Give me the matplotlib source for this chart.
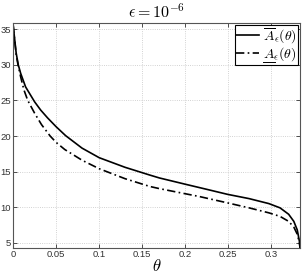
import numpy as np
import matplotlib
matplotlib.use('Agg')
import matplotlib.pyplot as plt
from matplotlib.lines import Line2D

# values
theta_upper = [0.0, 0.001, 0.002, 0.0035, 0.006, 0.0088, 0.0145, 0.020, 0.025, 0.032,
               0.040, 0.050, 0.061, 0.080, 0.100, 0.130, 0.159, 0.170, 0.199, 0.225,
               0.249, 0.274, 0.297, 0.310, 0.320, 0.326, 0.330, 0.3325, 0.3333]
a_upper = [35.7, 34.5, 33.4, 31.7, 30.0, 28.8, 26.9, 25.8, 24.8, 23.65,
           22.55, 21.3, 20.05, 18.3, 16.95, 15.6, 14.5, 14.1, 13.25, 12.5,
           11.8, 11.2, 10.5, 9.9, 9.0, 8.0, 6.8, 5.2, 4.2]

theta_lower = [0.0, 0.001, 0.002, 0.0035, 0.0057, 0.0088, 0.0125, 0.017, 0.025, 0.033,
               0.043, 0.050, 0.060, 0.080, 0.100, 0.130, 0.159, 0.170, 0.216, 0.249,
               0.274, 0.297, 0.310, 0.320, 0.326, 0.330, 0.3325, 0.3333]
a_lower = [35.6, 34.4, 33.2, 31.5, 30.0, 28.3, 26.5, 25.0, 23.2, 21.6,
           20.0, 19.1, 18.1, 16.6, 15.4, 14.0, 12.9, 12.6, 11.5, 10.6,
           9.9, 9.2, 8.7, 8.0, 7.2, 6.2, 5.0, 4.2]

xticks = [0, 0.05, 0.1, 0.15, 0.2, 0.25, 0.3]
xticklabels = ['0', '0.05', '0.1', '0.15', '0.2', '0.25', '0.3']
yticks = [5, 10, 15, 20, 25, 30, 35]

plt.rcParams['mathtext.fontset'] = 'cm'
plt.rcParams['font.family'] = ['Liberation Sans', 'DejaVu Sans']

fig = plt.figure(figsize=(3.05, 2.76), dpi=100)
ax = fig.add_axes([0.043, 0.1, 0.941, 0.817])

ax.plot(theta_upper, a_upper, color='black', lw=1.2, ls='-',
        label=r'$\overline{A}_\epsilon(\theta)$')
ax.plot(theta_lower, a_lower, color='black', lw=1.2, ls=(0, (5, 2, 1, 2)),
        label=r'$A_\epsilon(\theta)$')

ax.set_xlim(0, 1 / 3)
ax.set_ylim(4.2, 35.9)
ax.set_xticks(xticks)
ax.set_xticklabels(xticklabels)
ax.set_yticks(yticks)
ax.tick_params(direction='in', top=True, right=True, labelsize=6.8,
               length=3, width=0.6, colors='#333333', pad=1.5)
for s in ax.spines.values():
    s.set_color('#555555')
    s.set_linewidth(0.8)
ax.grid(True, ls=':', color='#c4c4c4', lw=0.6)

ax.set_title(r'$\epsilon = 10^{-6}$', fontsize=11.5, pad=4)
ax.set_xlabel(r'$\theta$', fontsize=12, labelpad=-1)

leg = ax.legend(loc='upper right', fontsize=10, handlelength=1.6, handletextpad=0.3,
                borderpad=0.1, labelspacing=0.0, borderaxespad=0.15, fancybox=False,
                framealpha=1)
leg.get_frame().set_edgecolor('black')
leg.get_frame().set_linewidth(0.8)

# mathtext has no \underline: draw the bar under the A by hand
fig.canvas.draw()
renderer = fig.canvas.get_renderer()
txt = leg.get_texts()[1]
bb = txt.get_window_extent(renderer)
probe = fig.text(0, 0, r'$A$', fontsize=10)
wa = probe.get_window_extent(renderer).width
probe.remove()
y0 = bb.y0 + 1.0
fig.add_artist(Line2D([bb.x0 + 0.5, bb.x0 + wa], [y0, y0], transform=None,
                      color='black', lw=0.7))

fig.savefig('out.png', dpi=100)
